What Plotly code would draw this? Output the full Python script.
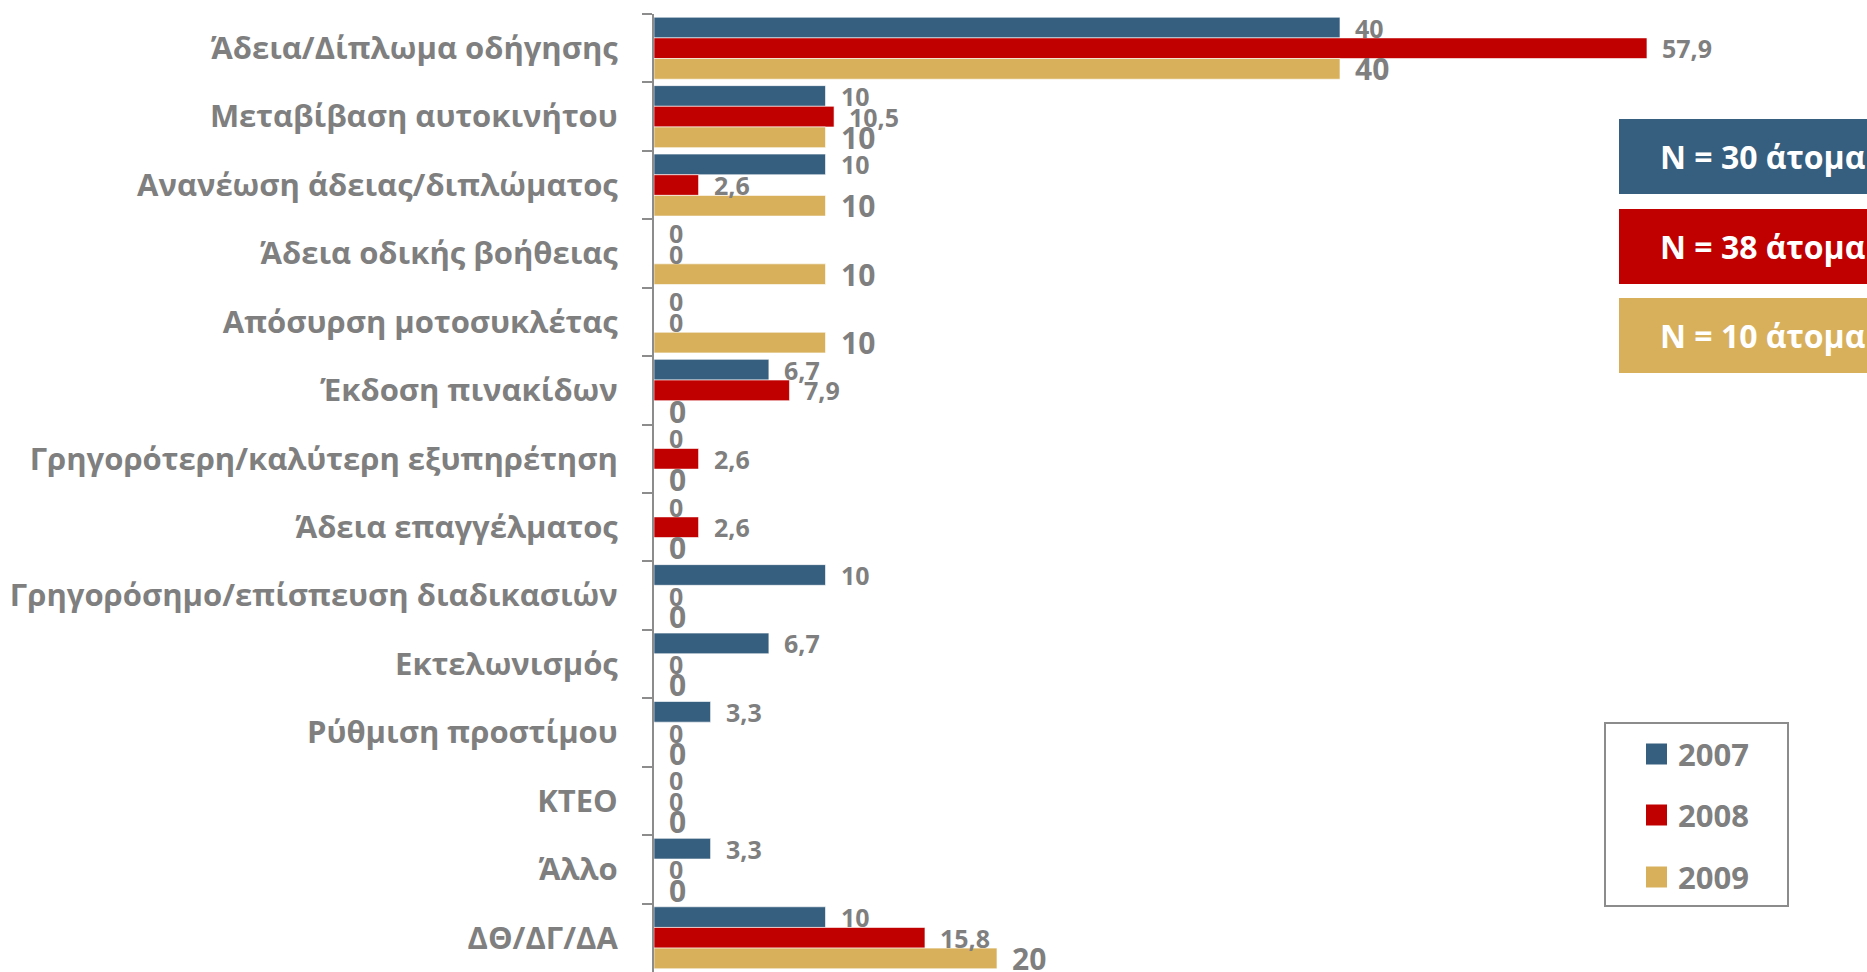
import plotly.graph_objects as go

categories = [
    "Άδεια/Δίπλωμα οδήγησης",
    "Μεταβίβαση αυτοκινήτου",
    "Ανανέωση άδειας/διπλώματος",
    "Άδεια οδικής βοήθειας",
    "Απόσυρση μοτοσυκλέτας",
    "Έκδοση πινακίδων",
    "Γρηγορότερη/καλύτερη εξυπηρέτηση",
    "Άδεια επαγγέλματος",
    "Γρηγορόσημο/επίσπευση διαδικασιών",
    "Εκτελωνισμός",
    "Ρύθμιση προστίμου",
    "ΚΤΕΟ",
    "Άλλο",
    "ΔΘ/ΔΓ/ΔΑ",
]
years = ["2007", "2008", "2009"]
values_2007 = [40, 10, 10, 0, 0, 6.7, 0, 0, 10, 6.7, 3.3, 0, 3.3, 10]
values_2008 = [57.9, 10.5, 2.6, 0, 0, 7.9, 2.6, 2.6, 0, 0, 0, 0, 0, 15.8]
values_2009 = [40, 10, 10, 10, 10, 0, 0, 0, 0, 0, 0, 0, 0, 20]
sample_sizes = [30, 38, 10]

colors = ["#365E7E", "#C00000", "#D8B05C"]
label_sizes = [25, 25, 30]
GREY = "#7F7F7F"
FONT = "'Open Sans', Lato, 'Noto Sans', sans-serif"

W, H = 1867, 972
L, R, T, B = 654, 0, 14, 0
PLOT_W = W - L - R
PLOT_H = H - T - B
BARGAP = 0.094
X_MAX = 70.73


def fmt(v):
    return f"{v:g}".replace(".", ",")


def px_x(x):
    return (x - L) / PLOT_W


def px_y(y):
    return 1 - (y - T) / PLOT_H


series = [values_2007, values_2008, values_2009]

fig = go.Figure()
for name, vals, col in zip(years, series, colors):
    fig.add_trace(go.Bar(
        y=categories, x=vals, name=name, orientation="h",
        marker=dict(color=col, line=dict(color="rgba(255,255,255,0.6)", width=1)),
        showlegend=False,
    ))

# value labels beside each bar
cat_px = PLOT_H / len(categories)
bar_px = cat_px * (1 - BARGAP) / 3
annotations = []
for s, (vals, size) in enumerate(zip(series, label_sizes)):
    for cat, v in zip(categories, vals):
        annotations.append(dict(
            x=v, y=cat, xref="x", yref="y", text=fmt(v), showarrow=False,
            xanchor="left", yanchor="middle", xshift=13, yshift=(1 - s) * bar_px,
            font=dict(family=FONT, size=size, color=GREY, weight="bold"),
        ))

shapes = []
# sample size boxes
box_tops = [119, 209, 298]
for top, n, col in zip(box_tops, sample_sizes, colors):
    shapes.append(dict(type="rect", xref="paper", yref="paper",
                       x0=px_x(1619), x1=px_x(1900), y0=px_y(top), y1=px_y(top + 75),
                       fillcolor=col, line=dict(width=0), layer="above"))
    annotations.append(dict(
        x=px_x(1658), y=px_y(top + 37.5), xref="paper", yref="paper",
        text=f"N = {n} άτομα", showarrow=False, xanchor="left", yanchor="middle",
        font=dict(family=FONT, size=32, color="white", weight="bold"),
    ))

# legend box
shapes.append(dict(type="rect", xref="paper", yref="paper",
                   x0=px_x(1605), x1=px_x(1788), y0=px_y(723), y1=px_y(906),
                   fillcolor="white", line=dict(color="#8C8C8C", width=2)))
for cy, name, col in zip([754, 815, 877], years, colors):
    shapes.append(dict(type="rect", xref="paper", yref="paper",
                       x0=px_x(1646), x1=px_x(1667), y0=px_y(cy - 10.5), y1=px_y(cy + 10.5),
                       fillcolor=col, line=dict(width=0)))
    annotations.append(dict(
        x=px_x(1676), y=px_y(cy), xref="paper", yref="paper", text=name,
        showarrow=False, xanchor="left", yanchor="middle",
        font=dict(family=FONT, size=31, color=GREY, weight="bold"),
    ))

fig.update_layout(
    width=W, height=H,
    margin=dict(l=L, r=R, t=T, b=B, pad=0, autoexpand=False),
    paper_bgcolor="white", plot_bgcolor="white",
    barmode="group", bargap=BARGAP, bargroupgap=0,
    annotations=annotations, shapes=shapes,
    showlegend=False,
)
fig.update_xaxes(range=[0, X_MAX], visible=False, showgrid=False, zeroline=False)
fig.update_yaxes(
    range=[len(categories) - 0.5, -0.5], autorange=False,
    showline=True, linecolor="#8C8C8C", linewidth=2,
    ticks="outside", tickson="boundaries", ticklen=10, tickwidth=2, tickcolor="#8C8C8C",
    showgrid=False, ticklabelstandoff=28, automargin=False,
    tickfont=dict(family=FONT, size=31, color=GREY, weight="bold"),
)

fig.write_html("out.html")
